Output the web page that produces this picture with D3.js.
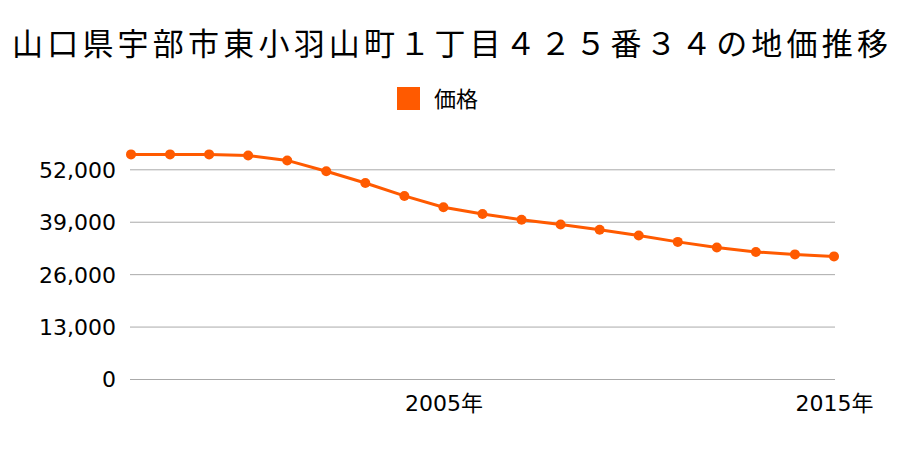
<!DOCTYPE html>
<html><head><meta charset="utf-8">
<script src="https://cdn.jsdelivr.net/npm/d3@7"></script>
<style>body{margin:0;background:#fff;} text{font-family:"Noto Sans CJK JP","Noto Sans",sans-serif;}</style>
</head><body><svg id="c" width="900" height="450"></svg>
<script>
const years = [1997,1998,1999,2000,2001,2002,2003,2004,2005,2006,2007,2008,2009,2010,2011,2012,2013,2014,2015];
const prices = [55700,55700,55700,55400,54200,51500,48600,45400,42600,40900,39500,38300,37000,35600,34000,32600,31500,30900,30400];
const yTicks = [0,13000,26000,39000,52000];
const xTickYears = [2005,2015];
const title = "山口県宇部市東小羽山町１丁目４２５番３４の地価推移";
const seriesName = "価格";
const color = "#ff5a00";
const tickFont = "'DejaVu Sans','Noto Sans CJK JP',sans-serif";

const svg = d3.select("#c");
const x = d3.scaleLinear().domain([1997,2015]).range([131,834]);
const y = d3.scaleLinear().domain([0,52000]).range([379,169.3]);

// title
const t = svg.append("text").attr("x",450).attr("y",55).attr("text-anchor","middle")
  .attr("font-size",31).attr("fill","#000").text(title);
const w = t.node().getComputedTextLength();
const target = 876;
if (w < target) {
  const ls = (target-w)/(title.length-1);
  t.attr("letter-spacing",ls).attr("x",450 + ls/2);
}

// legend
svg.append("rect").attr("x",397).attr("y",87).attr("width",23).attr("height",23).attr("fill",color);
svg.append("text").attr("x",434).attr("y",107).attr("font-size",22).attr("fill","#000").text(seriesName);

// grid
const yAxis = d3.axisLeft(y).tickValues(yTicks).tickSize(-705).tickPadding(14).tickFormat(d3.format(","));
const gy = svg.append("g").attr("transform","translate(130,0)").call(yAxis);
gy.select(".domain").remove();
gy.selectAll(".tick line").attr("stroke","#aaa").attr("stroke-width",1);
gy.selectAll(".tick text").attr("font-size",22).attr("fill","#000")
  .style("font-family",tickFont).attr("dy","0.36em");

const xAxis = d3.axisBottom(x).tickValues(xTickYears).tickSize(0).tickPadding(0).tickFormat(d=>d+"年");
const gx = svg.append("g").attr("transform","translate(0,411)").call(xAxis);
gx.select(".domain").remove();
gx.selectAll(".tick text").attr("font-size",22).attr("fill","#000").attr("dy","0")
  .style("font-family",tickFont);

// line
const data = years.map((yr,i)=>({yr, v:prices[i]}));
svg.append("path").datum(data).attr("fill","none").attr("stroke",color).attr("stroke-width",3)
  .attr("d", d3.line().x(d=>x(d.yr)).y(d=>y(d.v)));
svg.selectAll("circle.pt").data(data).enter().append("circle").attr("class","pt")
  .attr("cx",d=>x(d.yr)).attr("cy",d=>y(d.v)).attr("r",5).attr("fill",color);
</script></body></html>
